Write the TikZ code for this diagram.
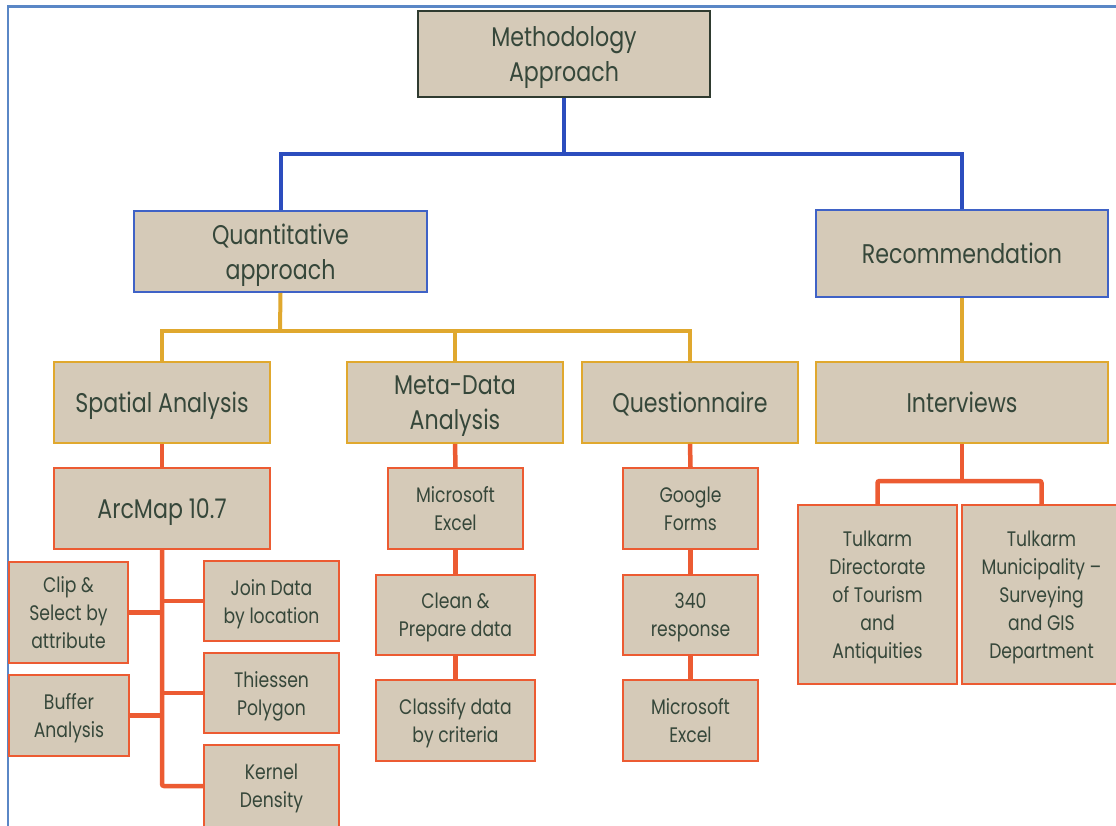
\documentclass[tikz,border=0pt]{standalone}
\usepackage{fontspec}
\setmainfont[FakeStretch=0.82]{Poppins}
\definecolor{tanfill}{HTML}{D5CAB8}
\definecolor{txt}{HTML}{36473A}
\definecolor{darkedge}{HTML}{2F3B30}
\definecolor{blueedge}{HTML}{3F62C6}
\definecolor{blueline}{HTML}{2C4DBE}
\definecolor{yel}{HTML}{E0A82E}
\definecolor{ora}{HTML}{EC5B32}
\definecolor{frame}{HTML}{5A87C6}
\begin{document}
\begin{tikzpicture}[x=1pt,y=-1pt,
  box/.style={draw, line width=1.6pt, fill=tanfill, text=txt, align=center, inner sep=0pt,
    text depth=0pt, font=\fontsize{21}{28}\selectfont},
  bigtext/.style={font=\fontsize{27}{35}\selectfont},
  bbox/.style={box, bigtext, draw=blueedge},
  ybox/.style={box, bigtext, draw=yel},
  obox/.style={box, draw=ora},
  bconn/.style={draw=blueline, line width=4pt},
  yconn/.style={draw=yel, line width=4pt},
  oconn/.style={draw=ora, line width=4.5pt, rounded corners=2pt}]
\clip (0,0) rectangle (1116,825);
\fill[white] (0,0) rectangle (1116,825);
\draw[frame, line width=2.2pt] (8,830) -- (8,6.5) -- (1120,6.5);

% nodes
\node[box, bigtext, draw=darkedge, minimum width=292, minimum height=86] (meth) at (564,54) {Methodology\\Approach};
\node[bbox, minimum width=293, minimum height=81] (quant) at (280.5,251.5) {Quantitative\\approach};
\node[bbox, minimum width=292, minimum height=87] (rec) at (962,253.5) {Recommendation};
\node[ybox, minimum width=216, minimum height=81] (spat) at (162,402.5) {Spatial Analysis};
\node[ybox, minimum width=216, minimum height=81] (meta) at (455,402.5) {Meta-Data\\Analysis};
\node[ybox, minimum width=216, minimum height=81] (quest) at (690,402.5) {Questionnaire};
\node[ybox, minimum width=292, minimum height=81] (interv) at (962,402.5) {Interviews};
\node[obox, bigtext, minimum width=216, minimum height=81] (arc) at (162,508.5) {ArcMap 10.7};
\node[obox, minimum width=119, minimum height=101] (clip) at (68.5,612.5) {Clip \&\\Select by\\attribute};
\node[obox, minimum width=120, minimum height=81] (buffer) at (69,715.5) {Buffer\\Analysis};
\node[obox, minimum width=135, minimum height=80] (join) at (271.5,601) {Join Data\\by location};
\node[obox, minimum width=135, minimum height=80] (thies) at (271.5,693) {Thiessen\\Polygon};
\node[obox, minimum width=135, minimum height=82] (kernel) at (271.5,786) {Kernel\\Density};
\node[obox, minimum width=135, minimum height=81] (msex1) at (455.5,508.5) {Microsoft\\Excel};
\node[obox, minimum width=159, minimum height=80] (clean) at (455.5,615) {Clean \&\\Prepare data};
\node[obox, minimum width=159, minimum height=81] (classify) at (455.5,720.5) {Classify data\\by criteria};
\node[obox, minimum width=135, minimum height=81] (gforms) at (690.5,508.5) {Google\\Forms};
\node[obox, minimum width=135, minimum height=80] (resp) at (690.5,615) {340\\response};
\node[obox, minimum width=135, minimum height=81] (msex2) at (690.5,720.5) {Microsoft\\Excel};
\node[obox, minimum width=159, minimum height=179] (dir) at (877.5,594.5) {Tulkarm\\Directorate\\of Tourism\\and\\Antiquities};
\node[obox, minimum width=159, minimum height=179] (mun) at (1041.5,594.5) {Tulkarm\\Municipality –\\Surveying\\and GIS\\Department};

% junctions
\coordinate (bj) at (564,154);
\coordinate (yj) at (280,331);
\coordinate (oj) at (962,481);

% blue connectors
\draw[bconn] (meth.south) -- (bj);
\draw[bconn] (quant.north) |- (bj) -| (rec.north);
% yellow connectors
\draw[yconn] (quant.south) -- (yj);
\draw[yconn] (spat.north) |- (yj) -| (quest.north);
\draw[yconn] (meta.north) -- (meta.north |- yj);
\draw[yconn] (rec.south) -- (interv.north);
% orange connectors
\draw[oconn] (spat.south) -- (arc.north);
\draw[oconn] (arc.south) |- (kernel.west);
\draw[oconn] (join.west) -- (join.west -| arc.south);
\draw[oconn] (thies.west) -- (thies.west -| arc.south);
\draw[oconn] (clip.east) -- (clip.east -| arc.south);
\draw[oconn] (buffer.east) -- (buffer.east -| arc.south);
\draw[oconn] (meta.south) -- (msex1.north);
\draw[oconn] (msex1.south) -- (clean.north);
\draw[oconn] (clean.south) -- (classify.north);
\draw[oconn] (quest.south) -- (gforms.north);
\draw[oconn] (gforms.south) -- (resp.north);
\draw[oconn] (resp.south) -- (msex2.north);
\draw[oconn] (interv.south) -- (oj);
\draw[oconn] (dir.north) |- (oj) -| (mun.north);
\end{tikzpicture}
\end{document}
